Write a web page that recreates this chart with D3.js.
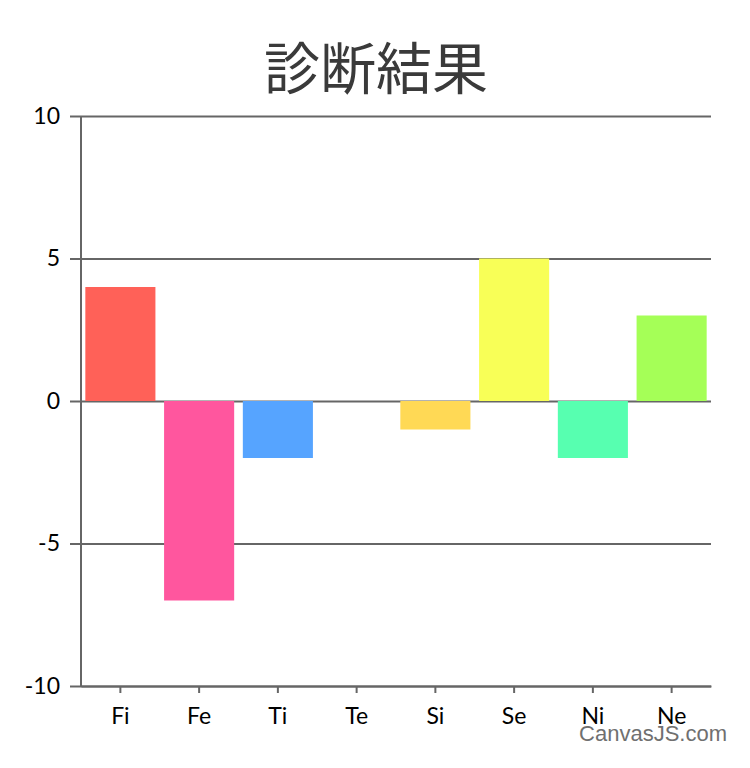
<!DOCTYPE html>
<html>
<head>
<meta charset="utf-8">
<script src="https://d3js.org/d3.v7.min.js"></script>
<style>
  body { margin: 0; background: #fff; }
  svg { display: block; }
</style>
</head>
<body>
<div id="chart"></div>
<script>
var categories = ['Fi', 'Fe', 'Ti', 'Te', 'Si', 'Se', 'Ni', 'Ne'];
var values = [4, -7, -2, 0, -1, 5, -2, 3];
var colors = ['#FF6158', '#FF569E', '#56A4FF', '#FFFFFF', '#FFD955', '#F8FF57', '#57FFB0', '#A5FF57'];
var yTicks = [-10, -5, 0, 5, 10];

var width = 750, height = 768;
var margin = {top: 116, right: 39, bottom: 82, left: 81};
var innerW = width - margin.left - margin.right;
var innerH = height - margin.top - margin.bottom;

var svg = d3.select('#chart').append('svg')
    .attr('width', width)
    .attr('height', height);

svg.append('text')
    .attr('x', width / 2 + 1)
    .attr('y', 89)
    .attr('text-anchor', 'middle')
    .style('font-family', '"Noto Sans CJK JP", sans-serif')
    .style('font-size', '56px')
    .style('fill', '#3a3a3a')
    .text('診断結果');

var g = svg.append('g')
    .attr('transform', 'translate(' + margin.left + ',' + margin.top + ')');

var x = d3.scaleBand().domain(categories).range([0, innerW]).paddingInner(0.11).paddingOuter(0.055);
var y = d3.scaleLinear().domain([-10, 10]).range([innerH, 0]);

// gridlines + y axis
var yAxis = g.append('g')
    .call(d3.axisLeft(y).tickValues(yTicks).tickFormat(function(d) { return String(d); })
        .tickSize(-innerW).tickSizeOuter(0));
yAxis.select('.domain').remove();
yAxis.selectAll('.tick line')
    .attr('x1', -11)
    .style('stroke', '#666')
    .style('stroke-width', 2);
yAxis.selectAll('.tick text')
    .attr('x', -21)
    .style('font-family', 'Lato, "Noto Sans", sans-serif')
    .style('font-size', '23px')
    .style('fill', '#000');

// bars
g.selectAll('.bar')
    .data(values)
    .enter()
    .append('rect')
    .attr('class', 'bar')
    .attr('x', function(d, i) { return x(categories[i]); })
    .attr('width', x.bandwidth())
    .attr('y', function(d) { return y(Math.max(0, d)); })
    .attr('height', function(d) { return Math.abs(y(d) - y(0)); })
    .style('fill', function(d, i) { return colors[i]; });

// y axis line
g.append('line')
    .attr('x1', 0).attr('x2', 0)
    .attr('y1', 0).attr('y2', innerH)
    .style('stroke', '#666')
    .style('stroke-width', 2);

// x axis
var xAxis = g.append('g')
    .attr('transform', 'translate(0,' + innerH + ')')
    .call(d3.axisBottom(x).tickSize(7).tickSizeOuter(0).tickPadding(15));
xAxis.select('.domain')
    .style('stroke', '#666')
    .style('stroke-width', 2);
xAxis.selectAll('.tick line')
    .style('stroke', '#666')
    .style('stroke-width', 2);
xAxis.selectAll('.tick text')
    .style('font-family', 'Lato, "Noto Sans", sans-serif')
    .style('font-size', '23px')
    .style('fill', '#000');

// watermark (overlaps the last labels, as in the reference)
svg.append('text')
    .attr('x', 727)
    .attr('y', 741)
    .attr('text-anchor', 'end')
    .style('font-family', '"Liberation Sans", Arial, sans-serif')
    .style('font-size', '22px')
    .style('fill', '#707070')
    .text('CanvasJS.com');
</script>
</body>
</html>
